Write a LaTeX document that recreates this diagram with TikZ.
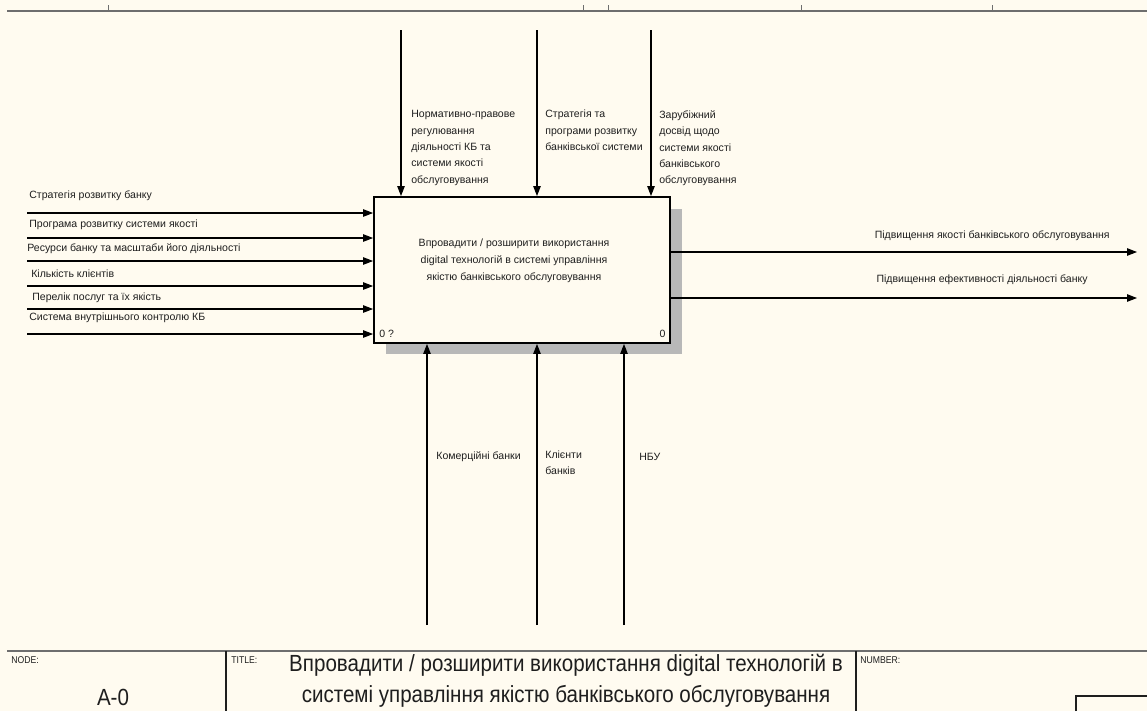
\documentclass[tikz,border=0pt]{standalone}
\usepackage{fontspec}
\setmainfont{Liberation Sans}
\newfontfamily\narrowfont{Liberation Sans}[FakeStretch=0.88]
\usetikzlibrary{arrows.meta,shadows}
\definecolor{paper}{HTML}{FFFBF0}
\definecolor{frame}{HTML}{6E6E6E}
\definecolor{ink}{HTML}{1E1E1E}
\begin{document}
\begin{tikzpicture}[x=0.02cm, y=-0.02cm,
	arr/.style={line width=0.6pt, -{Triangle[length=0.2cm, width=0.15cm]}},
	lbl/.style={inner sep=0pt, text=ink, font=\fontsize{6}{9.4}\selectfont, align=left},
	funcbox/.style={draw, fill=paper, line width=1.1pt, minimum width=5.92cm, minimum height=2.92cm, inner sep=0pt,
		drop shadow={shadow xshift=0.24cm, shadow yshift=-0.23cm, fill=black!28, opacity=1}},
	big/.style={inner sep=0pt, text=ink, font=\narrowfont\fontsize{13.3}{17.6}\selectfont, align=center},
	tiny/.style={inner sep=0pt, anchor=west, text=ink, font=\narrowfont\fontsize{5.6}{6}\selectfont}]
				\useasboundingbox[fill=paper] (0,0) rectangle (1147,711);
				\coordinate (c1) at (401,30);
				\coordinate (c2) at (537,30);
				\coordinate (c3) at (651,30);
				\coordinate (i1) at (27,213);
				\coordinate (i2) at (27,238);
				\coordinate (i3) at (27,261);
				\coordinate (i4) at (27,286);
				\coordinate (i5) at (27,309);
				\coordinate (i6) at (27,334);
				\coordinate (o1) at (1137,252);
				\coordinate (o2) at (1137,298);
				\coordinate (m1) at (427,625);
				\coordinate (m2) at (537,625);
				\coordinate (m3) at (624,625);
				\draw[frame, line width=1.5pt] (7,11) -- (1147,11);
				\foreach \t in {108,583,608,801,992}
					\draw[frame, line width=0.5pt] (\t,5) -- (\t,11);
				\draw[frame, line width=1.5pt] (7,651) -- (1147,651);
				\draw[ink, line width=0.6pt] (226,651) -- (226,711);
				\draw[ink, line width=0.6pt] (856,651) -- (856,711);
				\draw[ink, line width=0.7pt] (1076,711) -- (1076,696) -- (1147,696);
				\node[funcbox] (func) at (522,270) {};
				\draw[arr] (c1) -- (c1 |- func.north);
				\draw[arr] (c2) -- (c2 |- func.north);
				\draw[arr] (c3) -- (c3 |- func.north);
				\foreach \i in {i1,i2,i3,i4,i5,i6}
					\draw[arr] (\i) -- (\i -| func.west);
				\draw[arr] (o1 -| func.east) -- (o1);
				\draw[arr] (o2 -| func.east) -- (o2);
				\draw[arr] (m1) -- (m1 |- func.south);
				\draw[arr] (m2) -- (m2 |- func.south);
				\draw[arr] (m3) -- (m3 |- func.south);
				\node[lbl, align=center, font=\fontsize{6}{9.6}\selectfont] (functxt) at ([xshift=-0.16cm, yshift=0.18cm]func.center) {Впровадити / розширити використання\\digital технологій в системі управління\\якістю банківського обслуговування};
				\node[lbl, anchor=south west] (num1) at ([xshift=0.12cm, yshift=0.12cm]func.south west) {0 ?};
				\node[lbl, anchor=south east] (num2) at ([xshift=-0.1cm, yshift=0.12cm]func.south east) {0};
				\node[lbl, anchor=west] (l1) at (29,196) {Стратегія розвитку банку};
				\node[lbl, anchor=west] (l2) at (29,225) {Програма розвитку системи якості};
				\node[lbl, anchor=west] (l3) at (27,249) {Ресурси банку та масштаби його діяльності};
				\node[lbl, anchor=west] (l4) at (31,274) {Кількість клієнтів};
				\node[lbl, anchor=west] (l5) at (32,298) {Перелік послуг та їх якість};
				\node[lbl, anchor=west] (l6) at (29,318) {Система внутрішнього контролю КБ};
				\node[lbl, anchor=north west, font=\fontsize{6}{9.36}\selectfont] (t1) at (411,110) {Нормативно-правове\\регулювання\\діяльності КБ та\\системи якості\\обслуговування};
				\node[lbl, anchor=north west, font=\fontsize{6}{9.36}\selectfont] (t2) at (545,110) {Стратегія та\\програми розвитку\\банківської системи};
				\node[lbl, anchor=north west, font=\fontsize{6}{9.36}\selectfont] (t3) at (659,110) {Зарубіжний\\досвід щодо\\системи якості\\банківського\\обслуговування};
				\node[lbl, anchor=east] (r1) at (1110,236) {Підвищення якості банківського обслуговування};
				\node[lbl, anchor=east] (r2) at (1088,280) {Підвищення ефективності діяльності банку};
				\node[lbl, anchor=west] (b1) at (436,457) {Комерційні банки};
				\node[lbl, anchor=north west, font=\fontsize{6}{9.1}\selectfont] (b2) at (545,451) {Клієнти\\банків};
				\node[lbl, anchor=west] (b3) at (639,457) {НБУ};
				\node[tiny] (nodelbl) at (11,660) {NODE:};
				\node[tiny] (titlelbl) at (231,660) {TITLE:};
				\node[tiny] (numlbl) at (860,660) {NUMBER:};
				\node[big] (nodeid) at (113,697) {A-0};
				\node[big] (title) at (566,681) {Впровадити / розширити використання digital технологій в\\системі управління якістю банківського обслуговування};
			\end{tikzpicture}
\end{document}
